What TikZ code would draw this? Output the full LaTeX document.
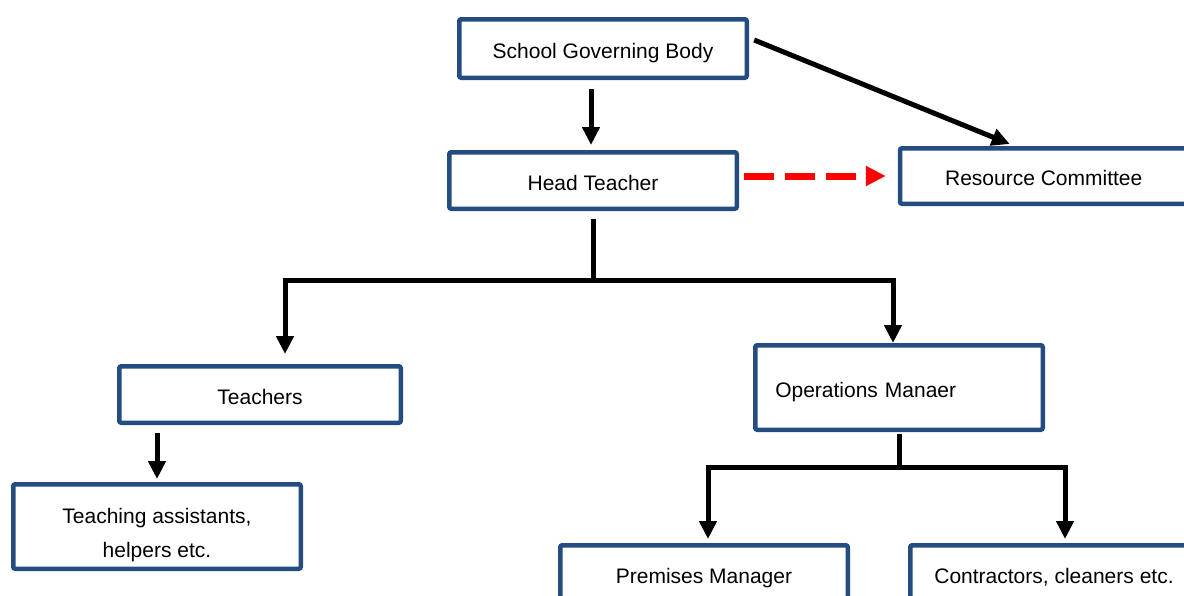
\documentclass[tikz,border=0pt]{standalone}
\usepackage{fontspec}
\setmainfont{Liberation Sans}
\usetikzlibrary{arrows.meta,positioning,calc}
\definecolor{boxblue}{RGB}{37,76,129}
\begin{document}
\begin{tikzpicture}[x=0.5pt, y=-0.5pt,
    boxbase/.style={draw=boxblue, line width=2.25pt, rounded corners=1pt, fill=white, rectangle,
      minimum width=143.75pt, minimum height=28.25pt, inner sep=0pt,
      font=\fontsize{10.5pt}{17pt}\selectfont, align=center},
    box/.style={boxbase, text height=9.5pt, text depth=0pt},
    link/.style={line width=2.5pt, draw=black},
    arr/.style={link, -{Triangle[length=9pt, width=8.5pt]}},
    redarr/.style={line width=3.5pt, draw=red, dash pattern=on 15pt off 5.5pt,
      -{Triangle[length=10pt, width=9.5pt]}}]
    \useasboundingbox (0,0) rectangle (1184,595);
    \clip (0,0) rectangle (1184,595);
    \node[box, minimum height=29.25pt] (sgb) at (603,48.5) {School Governing Body};
    \node[box] (ht) at (593,180.5) {Head Teacher};
    \node[box, minimum height=27.75pt] (rc) at (1043.75,176) {Resource Committee};
    \node[box, minimum width=140.75pt] (tch) at (260,394.5) {Teachers};
    \node[box, minimum height=42.25pt, align=left, text width=123.75pt, inner xsep=10pt] (ops) at (899,387.5) {Operations Manaer};
    \node[boxbase, minimum height=42.25pt] (ta) at (157,526.5) {\rule{0pt}{15.7pt}Teaching assistants,\\helpers etc.};
    \node[box] (pm) at (704,573.5) {Premises Manager};
    \node[box, right=29pt of pm] (ctr) {Contractors, cleaners etc.};
    \coordinate (htj) at (593,280);
    \coordinate (opj) at (899,467);
    \draw[arr] ($(sgb.south)+(-12,9)$) -- ($(sgb.south |- ht.north)+(-12,-5)$);
    \draw[arr] ([xshift=2.6pt,yshift=4.25pt]sgb.east) -- ([xshift=-17pt,yshift=1pt]rc.north);
    \draw[redarr] ($(ht.east |- rc.west)+(5,0)$) -- ([xshift=-6pt]rc.west);
    \draw[link] ([yshift=-4pt]ht.south) -- (htj);
    \draw[arr] (htj) -| ([xshift=12.5pt,yshift=5pt]tch.north);
    \draw[arr] (htj) -| ([xshift=-3pt]ops.north);
    \draw[arr] ($(ta.north |- tch.south)+(0,8)$) -- ([yshift=1.5pt]ta.north);
    \draw[link] ([yshift=-1pt]ops.south) -- (opj);
    \draw[arr] (opj) -| ([xshift=2pt,yshift=2pt]pm.north);
    \draw[arr] (opj) -| ([xshift=5.5pt,yshift=2pt]ctr.north);
\end{tikzpicture}
\end{document}
